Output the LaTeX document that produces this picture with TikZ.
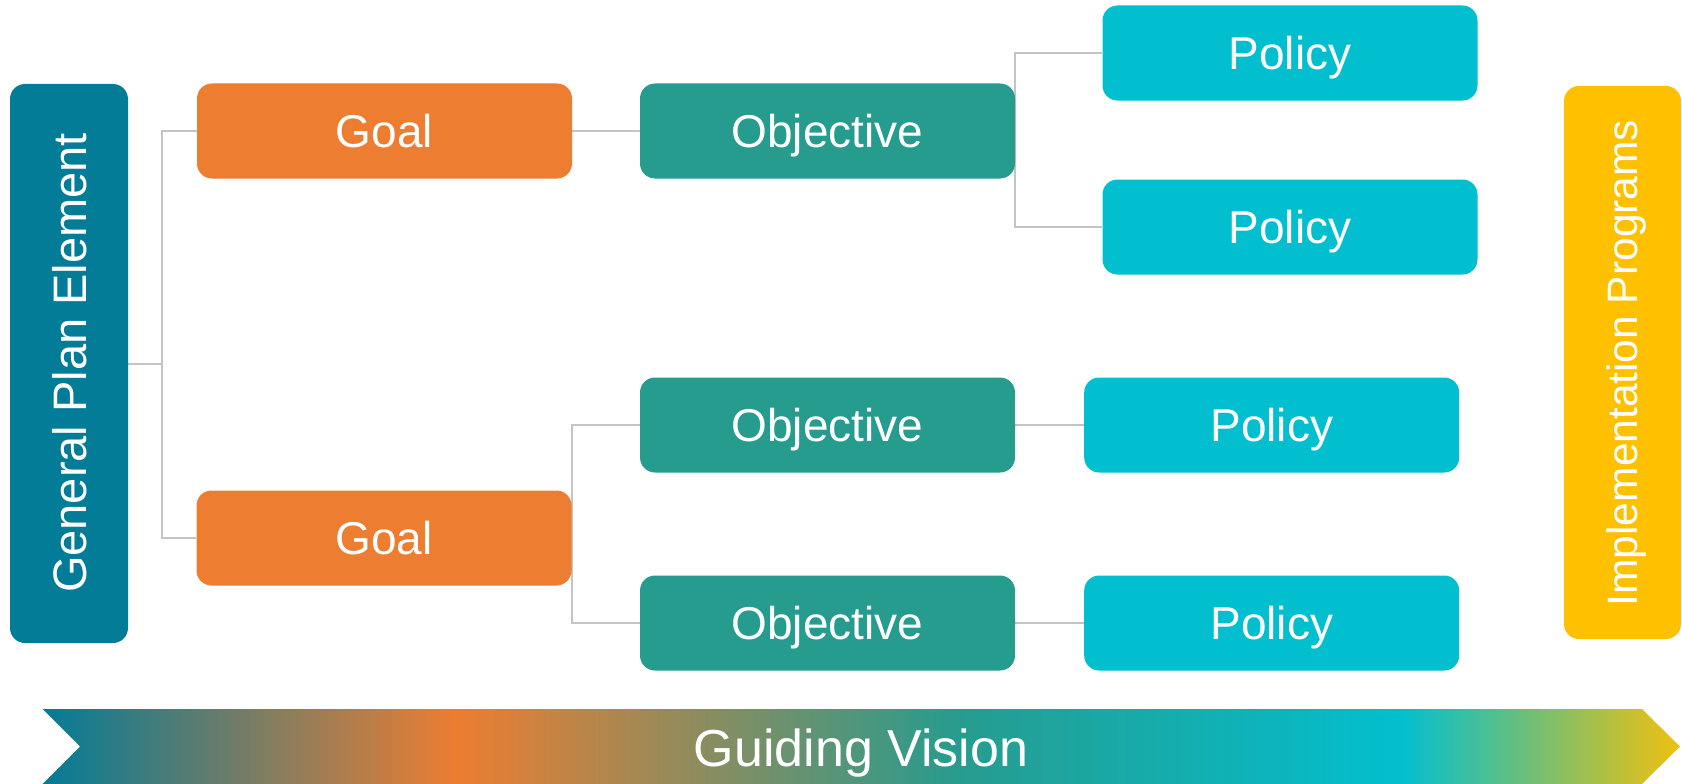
\documentclass[tikz,border=0pt]{standalone}
\usepackage{fontspec}
\setmainfont{Liberation Sans}
\usetikzlibrary{backgrounds}
\definecolor{gpeC}{RGB}{3,124,152}
\definecolor{goalC}{RGB}{237,125,49}
\definecolor{objC}{RGB}{38,156,143}
\definecolor{polC}{RGB}{2,191,207}
\definecolor{implC}{RGB}{255,192,0}
\definecolor{yelC}{RGB}{240,192,16}
\definecolor{lineC}{RGB}{196,196,196}
\pgfdeclarehorizontalshading{vision}{100bp}{color(0bp)=(gpeC); color(25bp)=(gpeC); color(37.65bp)=(goalC); color(53bp)=(objC); color(66.5bp)=(polC); color(75bp)=(yelC); color(100bp)=(yelC)}
\begin{document}
\begin{tikzpicture}[x=1pt,y=-1pt,
  box/.style={rounded corners=15pt, minimum width=375pt, minimum height=95pt, inner sep=0pt,
    text=white, font=\fontsize{46}{50}\selectfont, text height=33pt, text depth=0pt},
  goalbox/.style={box, fill=goalC},
  objbox/.style={box, fill=objC},
  polbox/.style={box, fill=polC},
  sidebox/.style={rounded corners=15pt, minimum width=118pt, inner sep=0pt},
  sidetext/.style={rotate=90, text=white, inner sep=0pt, text depth=0pt},
  conn/.style={draw=lineC, line width=2pt}]
\useasboundingbox (0,0) rectangle (1682,784);

% side boxes
\node[sidebox, fill=gpeC, minimum height=559pt] (gpe) at (69,363.5) {};
\node[sidetext, font=\fontsize{47}{50}\selectfont, text height=34pt] (gpetext) at (69,363) {General Plan Element};
\node[sidebox, fill=implC, minimum width=117pt, minimum height=553pt] (impl) at (1622.5,362.5) {};
\node[sidetext, font=\fontsize{42.5}{46}\selectfont, text height=30.5pt] (impltext) at (1622,363) {Implementation Programs};

% goals
\node[goalbox] (goal1) at (384.5,131) {Goal};
\node[goalbox] (goal2) at (384,538) {Goal};

% objectives
\node[objbox] (obj1) at (827.5,131) {Objective};
\node[objbox] (obj2) at (827.5,425) {Objective};
\node[objbox] (obj3) at (827.5,623) {Objective};

% policies
\node[polbox] (pol1) at (1290,53) {Policy};
\node[polbox] (pol2) at (1290,227) {Policy};
\node[polbox] (pol3) at (1271.7,425) {Policy};
\node[polbox] (pol4) at (1271.7,623) {Policy};

% connectors
\begin{scope}[on background layer]
\draw[conn] (gpe.east) -- ++(34,0) coordinate (j1);
\draw[conn] (j1) |- (goal1.west);
\draw[conn] (j1) |- (goal2.west);
\draw[conn] (goal1.east) -- (obj1.west);
\draw[conn] (goal2.east) |- (obj2.west);
\draw[conn] (goal2.east) |- (obj3.west);
\draw[conn] (obj1.east) |- (pol1.west);
\draw[conn] (obj1.east) |- (pol2.west);
\draw[conn] (obj2.east) -- (pol3.west);
\draw[conn] (obj3.east) -- (pol4.west);
\end{scope}

% guiding vision arrow
\path[shading=vision] (42.7,709) -- (1642,709) -- (1680,746.5) -- (1642,784) -- (42.7,784) -- (80,746.5) -- cycle;
\node[text=white, font=\fontsize{52}{56}\selectfont, text height=37pt, text depth=0pt, inner sep=0pt] (vision) at (861,747.5) {Guiding Vision};
\end{tikzpicture}
\end{document}
